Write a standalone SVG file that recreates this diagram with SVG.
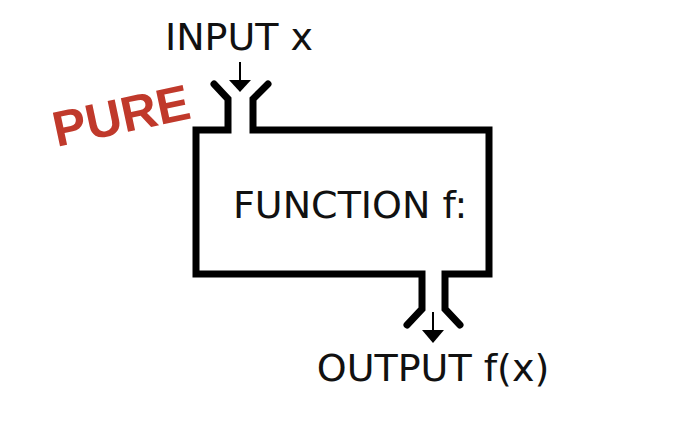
<svg xmlns="http://www.w3.org/2000/svg" width="677" height="431" viewBox="0 0 677 431">
<style>
.l{fill:none;stroke:#000;stroke-width:7;stroke-linecap:round;stroke-linejoin:miter}
.t{font-family:"DejaVu Sans",sans-serif;font-size:38px;fill:#111}
.a{stroke:#000;stroke-width:2}
</style>
<rect width="677" height="431" fill="#fff"/>
<g id="function">
<path class="l" d="M214,84 L228,99 L228,130 L196,130 L196,274 L422,274 L422,309 L407,325"/>
<path class="l" d="M268,84 L253,99 L253,130 L489,130 L489,274 L445,274 L445,309 L460,325"/>
<text class="t" x="233" y="218">FUNCTION f:</text>
</g>
<g id="input">
<text class="t" x="239" y="50" text-anchor="middle">INPUT x</text>
</g>
<g id="output">
<text class="t" x="433" y="381" text-anchor="middle">OUTPUT f(x)</text>
</g>
<g id="pure">
<text x="121" y="133" text-anchor="middle" transform="rotate(-12 121 115)" font-family="Liberation Sans, sans-serif" font-weight="bold" font-size="50" fill="#c0392b">PURE</text>
</g>
<g id="connectors">
<line class="a" x1="240" y1="62" x2="240" y2="82"/>
<polygon points="229,80 251,80 240,92"/>
<line class="a" x1="433" y1="312" x2="433" y2="332"/>
<polygon points="422,330 444,330 433,343"/>
</g>
</svg>
